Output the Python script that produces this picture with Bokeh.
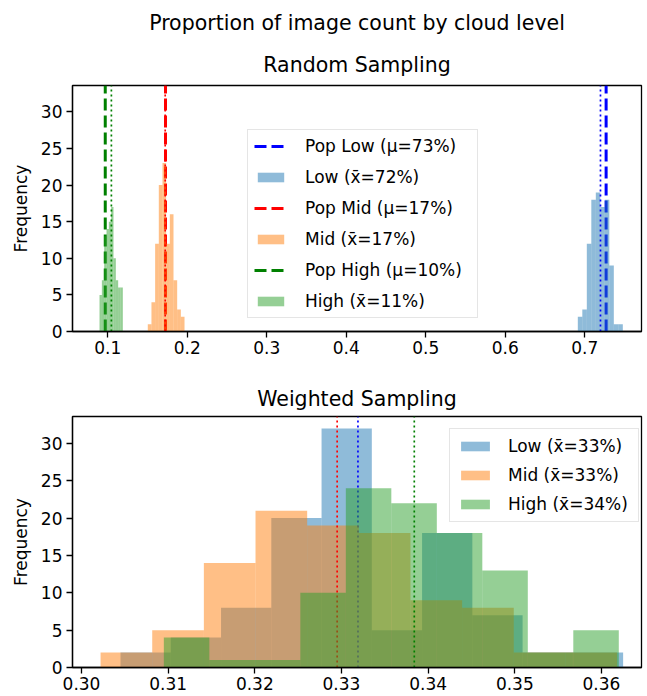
import numpy as np
from bokeh.plotting import figure
from bokeh.models import (Legend, LegendItem, Title, FixedTicker, ColumnDataSource,
                          PrintfTickFormatter, Range1d)
from bokeh.layouts import column
from bokeh.embed import file_html
from bokeh.resources import INLINE

FONT = "DejaVu Sans"
Y_MAX = 33.6

# ---------------- data: Random Sampling ----------------
rand_low_counts = [2, 3, 12, 18, 19, 17, 18, 9, 1, 1]
rand_low_range = (0.6912, 0.7478)
rand_mid_counts = [1, 4, 12, 20, 23, 12, 16, 7, 3, 2]
rand_mid_range = (0.1503, 0.1965)
rand_high_counts = [5, 7, 13, 14, 15, 17, 10, 7, 6, 6]
rand_high_range = (0.0896, 0.1189)
pop_means = [0.7268, 0.1726, 0.0968]          # Low, Mid, High
rand_sample_means = [0.7197, 0.1722, 0.1045]  # Low, Mid, High
rand_pop_labels = ["Pop Low (\u03bc=73%)", "Pop Mid (\u03bc=17%)", "Pop High (\u03bc=10%)"]
rand_labels = ["Low (x\u0304=72%)", "Mid (x\u0304=17%)", "High (x\u0304=11%)"]
rand_xticks = [0.1, 0.2, 0.3, 0.4, 0.5, 0.6, 0.7]

# ---------------- data: Weighted Sampling ----------------
w_low_counts = [2, 4, 8, 20, 32, 5, 18, 7, 2, 2]
w_low_range = (0.3045, 0.3625)
w_mid_counts = [2, 5, 14, 21, 19, 18, 9, 8, 2, 2]
w_mid_range = (0.3022, 0.3618)
w_high_counts = [4, 1, 1, 10, 24, 22, 18, 13, 2, 5]
w_high_range = (0.3095, 0.3620)
w_sample_means = [0.3319, 0.3295, 0.3384]
w_labels = ["Low (x\u0304=33%)", "Mid (x\u0304=33%)", "High (x\u0304=34%)"]
w_xticks = [0.30, 0.31, 0.32, 0.33, 0.34, 0.35, 0.36]

y_ticks = [0, 5, 10, 15, 20, 25, 30]

HIST_COLORS = ["#1f77b4", "#ff7f0e", "#2ca02c"]
LINE_COLORS = ["blue", "red", "green"]


def style(p, xticks, fmt):
    p.xgrid.visible = False
    p.ygrid.visible = False
    p.outline_line_color = "black"
    p.outline_line_width = 1.3
    p.background_fill_color = "white"
    p.border_fill_color = "white"
    for ax in (p.xaxis[0], p.yaxis[0]):
        ax.axis_line_color = "black"
        ax.axis_line_width = 1.3
        ax.major_tick_line_color = "black"
        ax.major_tick_line_width = 1.3
        ax.major_tick_out = 6
        ax.major_tick_in = 0
        ax.minor_tick_line_color = None
        ax.major_label_text_font = FONT
        ax.major_label_text_font_size = "17px"
        ax.major_label_text_color = "black"
    p.xaxis.ticker = FixedTicker(ticks=xticks)
    p.xaxis.formatter = PrintfTickFormatter(format=fmt)
    p.xaxis.major_label_standoff = 3
    p.yaxis.ticker = FixedTicker(ticks=y_ticks)
    p.yaxis.major_label_standoff = 4
    p.yaxis.axis_label = "Frequency"
    p.yaxis.axis_label_text_font = FONT
    p.yaxis.axis_label_text_font_size = "17px"
    p.yaxis.axis_label_text_font_style = "normal"
    p.yaxis.axis_label_text_color = "black"
    p.yaxis.axis_label_standoff = 7


def hist(p, counts, rng, color):
    n = len(counts)
    edges = np.linspace(rng[0], rng[1], n + 1)
    src = ColumnDataSource(dict(left=edges[:-1], right=edges[1:], top=counts,
                                bottom=[0] * n))
    return p.quad(left="left", right="right", top="top", bottom="bottom", source=src,
                  fill_color=color, fill_alpha=0.5, line_color=None)


def vline(p, x, color, dash, width):
    return p.segment(x0=[x], x1=[x], y0=[0], y1=[Y_MAX], line_color=color,
                     line_dash=dash, line_width=width)


def make_title(text, standoff):
    return Title(text=text, align="center", text_font=FONT, text_font_size="20.5px",
                 text_font_style="normal", text_color="black", standoff=standoff)


def make_legend(items, loc, spacing, label_width, glyph_width, standoff, padding):
    lg = Legend(items=items, location=loc, label_text_font=FONT,
                label_text_font_size="17px", label_text_color="black",
                glyph_width=glyph_width, glyph_height=12, label_standoff=standoff,
                label_width=label_width, spacing=spacing,
                padding=padding, margin=0, border_line_color="#cccccc", border_line_width=1,
                background_fill_color="white", background_fill_alpha=0.8)
    return lg


# ---------------- top figure ----------------
top = figure(width=644, height=370, x_range=Range1d(0.0556, 0.7713),
             y_range=Range1d(0, Y_MAX), output_backend="svg", toolbar_location=None,
             title_location=None, min_border_left=72, min_border_right=3,
             min_border_top=80, min_border_bottom=39)
style(top, rand_xticks, "%.1f")

rand_counts = [rand_low_counts, rand_mid_counts, rand_high_counts]
rand_ranges = [rand_low_range, rand_mid_range, rand_high_range]
items = []
for i in range(3):
    rp = vline(top, pop_means[i], LINE_COLORS[i], "12 5", 3)
    rh = hist(top, rand_counts[i], rand_ranges[i], HIST_COLORS[i])
    vline(top, rand_sample_means[i], LINE_COLORS[i], "2 3", 1.7)
    items.append(LegendItem(label=rand_pop_labels[i], renderers=[rp]))
    items.append(LegendItem(label=rand_labels[i], renderers=[rh]))
top.add_layout(make_legend(items, (175, 13), 11, 166, 33, 18, 6))
top.add_layout(make_title("Random Sampling", 17), "above")
top.add_layout(make_title("Proportion of image count by cloud level", 16), "above")

# ---------------- bottom figure ----------------
bot = figure(width=644, height=326, x_range=Range1d(0.29896, 0.36462),
             y_range=Range1d(0, Y_MAX), output_backend="svg", toolbar_location=None,
             title_location=None, min_border_left=72, min_border_right=3,
             min_border_top=46, min_border_bottom=29)
style(bot, w_xticks, "%.2f")

w_counts = [w_low_counts, w_mid_counts, w_high_counts]
w_ranges = [w_low_range, w_mid_range, w_high_range]
witems = []
for i in range(3):
    rh = hist(bot, w_counts[i], w_ranges[i], HIST_COLORS[i])
    vline(bot, w_sample_means[i], LINE_COLORS[i], "2 3", 1.7)
    witems.append(LegendItem(label=w_labels[i], renderers=[rh]))
bot.add_layout(make_legend(witems, (377, 145), 9, 123, 36, 15, 7))
bot.add_layout(make_title("Weighted Sampling", 11), "above")

layout = column(top, bot)
open("out.html", "w").write(file_html(layout, INLINE))
